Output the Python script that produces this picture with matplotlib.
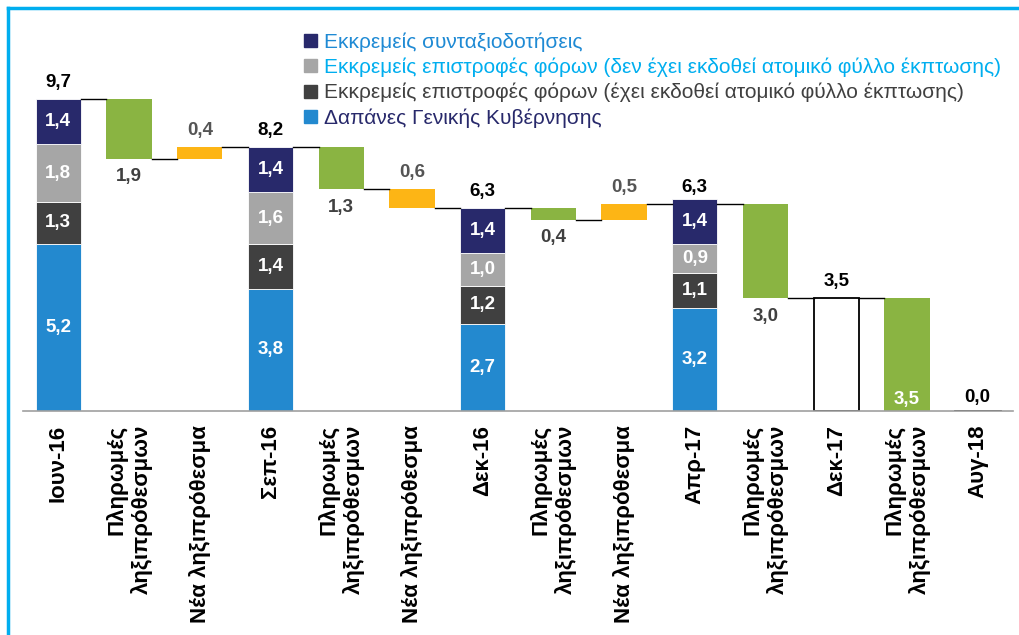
import numpy as np
import matplotlib.pyplot as plt
from matplotlib.patches import Patch
from matplotlib.lines import Line2D

plt.rcParams['font.family'] = ['Liberation Sans', 'DejaVu Sans']

# ---- data ----
categories = ['Ιουν-16', 'Πληρωμές\nληξιπρόθεσμων', 'Νέα ληξιπρόθεσμα',
              'Σεπ-16', 'Πληρωμές\nληξιπρόθεσμων', 'Νέα ληξιπρόθεσμα',
              'Δεκ-16', 'Πληρωμές\nληξιπρόθεσμων', 'Νέα ληξιπρόθεσμα',
              'Απρ-17', 'Πληρωμές\nληξιπρόθεσμων', 'Δεκ-17',
              'Πληρωμές\nληξιπρόθεσμων', 'Αυγ-18']

series_names = ['Εκκρεμείς συνταξιοδοτήσεις',
                'Εκκρεμείς επιστροφές φόρων (δεν έχει εκδοθεί ατομικό φύλλο έκπτωσης)',
                'Εκκρεμείς επιστροφές φόρων (έχει εκδοθεί ατομικό φύλλο έκπτωσης)',
                'Δαπάνες Γενικής Κυβέρνησης']

# stacked totals (index in categories)
stack_idx = [0, 3, 6, 9]
stack_labels = ['9,7', '8,2', '6,3', '6,3']
gov_spend = [5.2, 3.8, 2.7, 3.2]
tax_issued = [1.3, 1.4, 1.2, 1.1]
tax_not_issued = [1.8, 1.6, 1.0, 0.9]
pensions = [1.4, 1.4, 1.4, 1.4]

# floating change bars
pay_idx = [1, 4, 7, 10]
pay_start = [9.7, 8.2, 6.3, 6.45]
pay_end = [7.85, 6.9, 5.95, 3.5]
pay_labels = ['1,9', '1,3', '0,4', '3,0']

new_idx = [2, 5, 8]
new_low = [7.85, 6.3, 5.95]
new_high = [8.2, 6.9, 6.45]
new_labels = ['0,4', '0,6', '0,5']

dec17_value = 3.5
last_pay_value = 3.5
aug18_value = 0.0

# ---- colours ----
c_navy = '#28296b'
c_lgray = '#a6a6a6'
c_dgray = '#404040'
c_blue = '#2389cf'
c_green = '#8ab442'
c_orange = '#fdb515'

fig = plt.figure(figsize=(10.2, 6.35), dpi=100)
ax = fig.add_axes([23 / 1020, 1 - 411 / 635, 990 / 1020, 391 / 635])
x = np.arange(len(categories))
w = 0.64
fs = 13.5

# stacked bars
sx = x[stack_idx]
bottom = np.zeros(len(sx))
for vals, col in [(gov_spend, c_blue), (tax_issued, c_dgray),
                  (tax_not_issued, c_lgray), (pensions, c_navy)]:
    vals = np.array(vals)
    ax.bar(sx, vals, w, bottom=bottom, color=col, edgecolor='white', linewidth=0.6)
    for xi, b, v in zip(sx, bottom, vals):
        ax.text(xi, b + v / 2, f'{v:.1f}'.replace('.', ','), ha='center', va='center',
                color='white', fontsize=fs, fontweight='bold')
    bottom += vals
stack_tops = [9.7, 8.2, 6.3, 6.45]
for xi, t, lab in zip(sx, stack_tops, stack_labels):
    ax.text(xi, t + 0.25, lab, ha='center', va='bottom', color='black',
            fontsize=fs, fontweight='bold')

# payments (decreases)
for i, s, e, lab in zip(pay_idx, pay_start, pay_end, pay_labels):
    ax.bar(x[i], s - e, w, bottom=e, color=c_green)
    ax.text(x[i], e - 0.3, lab, ha='center', va='top', color=c_dgray,
            fontsize=fs, fontweight='bold')

# new arrears
for i, lo, hi, lab in zip(new_idx, new_low, new_high, new_labels):
    ax.bar(x[i], hi - lo, w, bottom=lo, color=c_orange)
    ax.text(x[i], hi + 0.25, lab, ha='center', va='bottom', color='#555555',
            fontsize=fs, fontweight='bold')

# Dec-17 outline bar
ax.bar(x[11], dec17_value, w, color='white', edgecolor='black', linewidth=1.3)
ax.text(x[11], dec17_value + 0.25, '3,5', ha='center', va='bottom', color='black',
        fontsize=fs, fontweight='bold')
# last payment
ax.bar(x[12], last_pay_value, w, color=c_green)
ax.text(x[12], 0.1, '3,5', ha='center', va='bottom', color='white',
        fontsize=fs, fontweight='bold')
# Aug-18
ax.plot([x[13] - w / 2, x[13] + w / 2], [aug18_value, aug18_value], color='black', lw=2)
ax.text(x[13], aug18_value + 0.15, '0,0', ha='center', va='bottom', color='black',
        fontsize=fs, fontweight='bold')

# connector lines
levels = [9.7, 7.85, 8.2, 8.2, 6.9, 6.3, 6.3, 5.95, 6.45, 6.45, 3.5, 3.5]
for k, lv in enumerate(levels):
    ax.plot([x[k] + w / 2, x[k + 1] - w / 2], [lv, lv], color='black', lw=1)

ax.set_xlim(-0.5, 13.5)
ax.set_ylim(0, 391 / 32.16)
ax.set_xticks(x)
ax.set_xticklabels(categories, rotation=90, fontsize=16, fontweight='bold',
                   multialignment='right')
ax.tick_params(axis='x', length=0, pad=10)
ax.set_yticks([])
for sp in ['top', 'right', 'left']:
    ax.spines[sp].set_visible(False)
ax.spines['bottom'].set_color('#a0a0a0')
ax.spines['bottom'].set_linewidth(1.2)

# legend
handles = [Patch(color=c) for c in [c_navy, c_lgray, c_dgray, c_blue]]
leg = fig.legend(handles, series_names, loc='upper left',
                 bbox_to_anchor=(296 / 1020, 1 - 24 / 635), frameon=False,
                 fontsize=15, handlelength=0.6, handleheight=0.6,
                 handletextpad=0.35, labelspacing=0.28, borderaxespad=0)
for t, c in zip(leg.get_texts(), ['#1f8ad4', '#00aeef', '#404040', c_navy]):
    t.set_color(c)

# frame lines
fig.add_artist(Line2D([8 / 1020, 8 / 1020], [0, 1 - 8 / 635], color='#00aeef', lw=2.5,
                      transform=fig.transFigure))
fig.add_artist(Line2D([8 / 1020, 1], [1 - 8 / 635, 1 - 8 / 635], color='#00aeef', lw=2.5,
                      transform=fig.transFigure))

fig.savefig('out.png', dpi=100)
